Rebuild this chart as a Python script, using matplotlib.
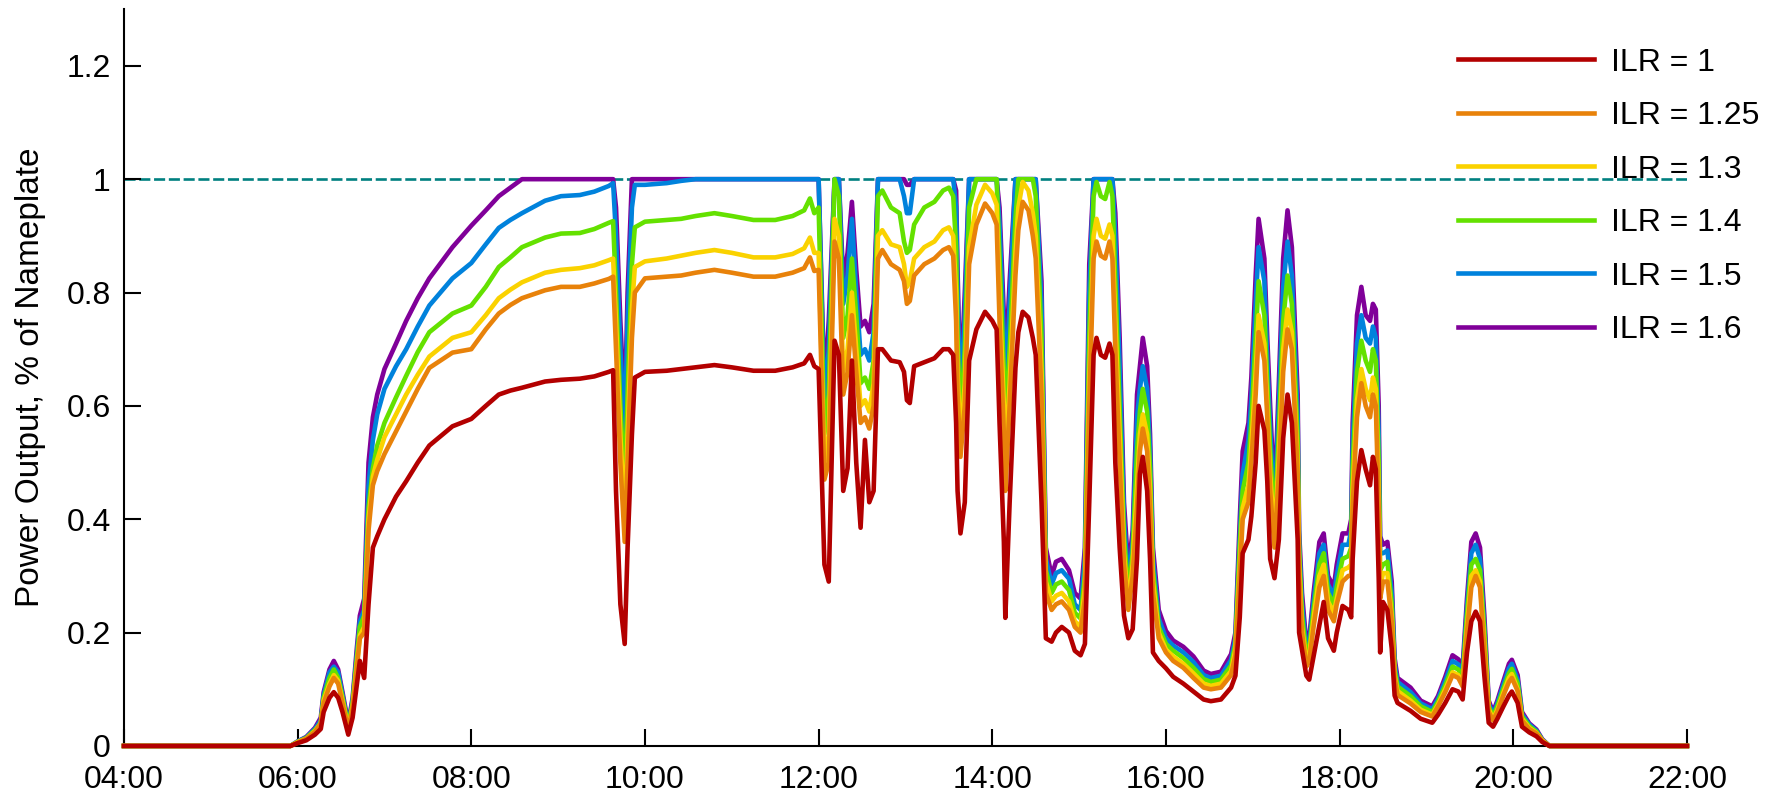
import matplotlib
matplotlib.use("Agg")
import matplotlib.pyplot as plt
import matplotlib.dates as mdates
from matplotlib.ticker import FuncFormatter
import pandas as pd

# sample times (irregular)
times = [
    "04:00", "05:55", "06:00", "06:06", "06:12", "06:16", "06:18", "06:22", "06:25", "06:28",
    "06:31", "06:35", "06:38", "06:41", "06:43", "06:46", "06:49", "06:52", "06:55", "07:00",
    "07:08", "07:15", "07:23", "07:31", "07:47", "08:00", "08:10", "08:19", "08:27", "08:35",
    "08:51", "09:02", "09:15", "09:25", "09:35", "09:38", "09:40", "09:43", "09:46", "09:48",
    "09:51", "09:53", "10:00", "10:15", "10:25", "10:35", "10:48", "11:00", "11:15", "11:30",
    "11:42", "11:50", "11:54", "11:57", "12:00", "12:04", "12:07", "12:11", "12:14", "12:17",
    "12:20", "12:23", "12:26", "12:29", "12:32", "12:35", "12:38", "12:41", "12:44", "12:50",
    "12:56", "12:59", "13:01", "13:03", "13:06", "13:13", "13:20", "13:26", "13:30", "13:33",
    "13:35", "13:36", "13:38", "13:41", "13:44", "13:49", "13:55", "14:00", "14:03", "14:05",
    "14:08", "14:09", "14:12", "14:16", "14:18", "14:21", "14:25", "14:28", "14:30", "14:34",
    "14:37", "14:41", "14:44", "14:48", "14:53", "14:57", "15:01", "15:04", "15:07", "15:10",
    "15:12", "15:15", "15:18", "15:21", "15:23", "15:25", "15:28", "15:31", "15:34", "15:37",
    "15:40", "15:42", "15:44", "15:47", "15:49", "15:51", "15:55", "16:00", "16:05", "16:12",
    "16:19", "16:26", "16:31", "16:38", "16:45", "16:48", "16:51", "16:53", "16:57", "16:59",
    "17:02", "17:04", "17:08", "17:10", "17:12", "17:15", "17:18", "17:21", "17:24", "17:27",
    "17:31", "17:32", "17:34", "17:37", "17:39", "17:42", "17:46", "17:49", "17:52", "17:56",
    "17:58", "18:02", "18:06", "18:08", "18:09", "18:12", "18:15", "18:18", "18:21", "18:23",
    "18:25", "18:27", "18:28", "18:30", "18:33", "18:36", "18:38", "18:40", "18:49", "18:56",
    "19:04", "19:08", "19:13", "19:18", "19:22", "19:25", "19:28", "19:31", "19:34", "19:37",
    "19:40", "19:43", "19:46", "19:49", "19:53", "19:57", "19:59", "20:03", "20:06", "20:11",
    "20:16", "20:20", "20:25", "22:00",
]

ilr_100 = [
    0, 0, 0.005, 0.01, 0.02, 0.03, 0.06, 0.085, 0.095, 0.085,
    0.06, 0.02, 0.05, 0.11, 0.15, 0.12, 0.25, 0.35, 0.37, 0.40,
    0.44, 0.467, 0.50, 0.53, 0.564, 0.577, 0.60, 0.62, 0.627, 0.632,
    0.643, 0.646, 0.648, 0.652, 0.66, 0.663, 0.45, 0.25, 0.18, 0.35,
    0.55, 0.65, 0.66, 0.662, 0.665, 0.668, 0.672, 0.668, 0.662, 0.662,
    0.668, 0.675, 0.69, 0.67, 0.665, 0.32, 0.29, 0.715, 0.69, 0.45,
    0.49, 0.68, 0.5, 0.385, 0.54, 0.43, 0.45, 0.70, 0.70, 0.68,
    0.677, 0.66, 0.61, 0.605, 0.67, 0.677, 0.684, 0.70, 0.70, 0.69,
    0.57, 0.45, 0.375, 0.43, 0.68, 0.735, 0.766, 0.75, 0.735, 0.57,
    0.36, 0.226, 0.43, 0.667, 0.73, 0.766, 0.756, 0.72, 0.69, 0.43,
    0.19, 0.184, 0.2, 0.21, 0.2, 0.168, 0.16, 0.18, 0.43, 0.69,
    0.72, 0.69, 0.685, 0.71, 0.69, 0.5, 0.35, 0.23, 0.19, 0.206,
    0.33, 0.48, 0.51, 0.45, 0.33, 0.165, 0.15, 0.137, 0.122, 0.11,
    0.096, 0.082, 0.079, 0.082, 0.103, 0.124, 0.227, 0.34, 0.364, 0.405,
    0.5, 0.6, 0.557, 0.467, 0.33, 0.296, 0.364, 0.543, 0.62, 0.57,
    0.364, 0.2, 0.17, 0.124, 0.117, 0.158, 0.213, 0.254, 0.19, 0.168,
    0.2, 0.247, 0.24, 0.227, 0.33, 0.467, 0.522, 0.488, 0.46, 0.51,
    0.488, 0.296, 0.165, 0.254, 0.24, 0.172, 0.089, 0.076, 0.062, 0.048,
    0.041, 0.055, 0.076, 0.1, 0.096, 0.082, 0.165, 0.22, 0.237, 0.22,
    0.124, 0.041, 0.034, 0.048, 0.069, 0.089, 0.096, 0.076, 0.034, 0.024,
    0.017, 0.007, 0, 0,
]

ilr_125 = [
    0, 0, 0.006, 0.013, 0.025, 0.04, 0.075, 0.105, 0.12, 0.11,
    0.075, 0.03, 0.065, 0.14, 0.19, 0.2, 0.38, 0.46, 0.485, 0.515,
    0.555, 0.59, 0.63, 0.667, 0.694, 0.70, 0.735, 0.763, 0.778, 0.79,
    0.804, 0.81, 0.81, 0.816, 0.824, 0.828, 0.7, 0.5, 0.36, 0.5,
    0.72, 0.8, 0.825, 0.828, 0.83, 0.835, 0.84, 0.835, 0.828, 0.828,
    0.835, 0.843, 0.862, 0.838, 0.84, 0.47, 0.5, 0.89, 0.86, 0.62,
    0.66, 0.76, 0.66, 0.57, 0.58, 0.56, 0.6, 0.86, 0.875, 0.85,
    0.84, 0.82, 0.78, 0.785, 0.83, 0.85, 0.86, 0.875, 0.88, 0.865,
    0.75, 0.62, 0.51, 0.6, 0.85, 0.92, 0.957, 0.94, 0.92, 0.75,
    0.55, 0.45, 0.6, 0.83, 0.91, 0.96, 0.945, 0.9, 0.86, 0.62,
    0.27, 0.24, 0.25, 0.255, 0.24, 0.21, 0.2, 0.26, 0.6, 0.86,
    0.89, 0.865, 0.86, 0.89, 0.86, 0.7, 0.5, 0.32, 0.24, 0.3,
    0.42, 0.52, 0.56, 0.52, 0.42, 0.27, 0.19, 0.165, 0.15, 0.138,
    0.12, 0.103, 0.1, 0.103, 0.125, 0.16, 0.3, 0.4, 0.43, 0.5,
    0.62, 0.73, 0.68, 0.58, 0.45, 0.35, 0.48, 0.66, 0.735, 0.7,
    0.48, 0.3, 0.2, 0.14, 0.15, 0.21, 0.28, 0.3, 0.24, 0.22,
    0.25, 0.29, 0.3, 0.3, 0.42, 0.58, 0.64, 0.6, 0.58, 0.62,
    0.6, 0.42, 0.26, 0.29, 0.29, 0.22, 0.12, 0.09, 0.075, 0.06,
    0.052, 0.07, 0.095, 0.125, 0.12, 0.105, 0.2, 0.28, 0.3, 0.28,
    0.17, 0.06, 0.045, 0.06, 0.088, 0.113, 0.12, 0.097, 0.045, 0.03,
    0.022, 0.009, 0, 0,
]

ilr_130 = [
    0, 0, 0.007, 0.013, 0.026, 0.04, 0.08, 0.11, 0.125, 0.115,
    0.08, 0.03, 0.07, 0.145, 0.195, 0.21, 0.4, 0.475, 0.505, 0.545,
    0.585, 0.62, 0.655, 0.687, 0.72, 0.73, 0.76, 0.79, 0.805, 0.818,
    0.835, 0.84, 0.843, 0.848, 0.857, 0.86, 0.75, 0.55, 0.4, 0.55,
    0.77, 0.845, 0.855, 0.86, 0.865, 0.87, 0.875, 0.87, 0.862, 0.862,
    0.868, 0.878, 0.897, 0.87, 0.87, 0.5, 0.55, 0.93, 0.9, 0.66,
    0.7, 0.8, 0.7, 0.6, 0.61, 0.59, 0.64, 0.9, 0.91, 0.885,
    0.88, 0.85, 0.81, 0.82, 0.86, 0.88, 0.89, 0.91, 0.915, 0.9,
    0.8, 0.66, 0.53, 0.64, 0.88, 0.955, 0.99, 0.975, 0.955, 0.8,
    0.6, 0.5, 0.64, 0.87, 0.95, 0.995, 0.98, 0.94, 0.9, 0.66,
    0.29, 0.255, 0.265, 0.27, 0.255, 0.22, 0.21, 0.28, 0.65, 0.9,
    0.93, 0.9, 0.895, 0.92, 0.9, 0.75, 0.55, 0.34, 0.25, 0.32,
    0.46, 0.55, 0.585, 0.55, 0.45, 0.29, 0.2, 0.17, 0.158, 0.145,
    0.128, 0.11, 0.106, 0.11, 0.132, 0.17, 0.32, 0.42, 0.46, 0.53,
    0.66, 0.76, 0.71, 0.6, 0.48, 0.37, 0.51, 0.7, 0.77, 0.73,
    0.5, 0.32, 0.21, 0.15, 0.16, 0.225, 0.3, 0.32, 0.255, 0.235,
    0.26, 0.31, 0.315, 0.32, 0.45, 0.61, 0.665, 0.63, 0.61, 0.65,
    0.63, 0.45, 0.28, 0.305, 0.305, 0.23, 0.125, 0.097, 0.08, 0.064,
    0.055, 0.073, 0.1, 0.13, 0.125, 0.11, 0.21, 0.3, 0.31, 0.29,
    0.18, 0.065, 0.048, 0.064, 0.093, 0.12, 0.127, 0.1, 0.048, 0.032,
    0.023, 0.01, 0, 0,
]

ilr_140 = [
    0, 0, 0.007, 0.014, 0.028, 0.04, 0.085, 0.12, 0.135, 0.12,
    0.085, 0.035, 0.075, 0.155, 0.21, 0.23, 0.42, 0.49, 0.53, 0.57,
    0.615, 0.653, 0.695, 0.73, 0.763, 0.777, 0.81, 0.845, 0.862, 0.88,
    0.897, 0.904, 0.905, 0.912, 0.923, 0.926, 0.8, 0.6, 0.45, 0.62,
    0.85, 0.915, 0.925, 0.928, 0.93, 0.935, 0.94, 0.935, 0.928, 0.928,
    0.935, 0.945, 0.966, 0.94, 0.95, 0.55, 0.62, 1, 0.97, 0.72,
    0.76, 0.86, 0.76, 0.64, 0.65, 0.63, 0.68, 0.97, 0.98, 0.95,
    0.94, 0.89, 0.87, 0.875, 0.92, 0.95, 0.96, 0.98, 0.985, 0.97,
    0.88, 0.72, 0.57, 0.7, 0.95, 1, 1, 1, 1, 0.86,
    0.66, 0.56, 0.7, 0.93, 1, 1, 1, 1, 0.97, 0.72,
    0.31, 0.27, 0.285, 0.29, 0.275, 0.235, 0.225, 0.3, 0.72, 0.97,
    0.995, 0.97, 0.965, 0.995, 0.97, 0.82, 0.6, 0.37, 0.27, 0.34,
    0.52, 0.59, 0.63, 0.59, 0.49, 0.31, 0.21, 0.18, 0.168, 0.155,
    0.138, 0.118, 0.113, 0.117, 0.142, 0.18, 0.35, 0.45, 0.5, 0.57,
    0.72, 0.82, 0.76, 0.64, 0.52, 0.39, 0.55, 0.75, 0.83, 0.78,
    0.54, 0.34, 0.23, 0.16, 0.17, 0.24, 0.32, 0.34, 0.27, 0.25,
    0.28, 0.33, 0.335, 0.35, 0.49, 0.66, 0.715, 0.68, 0.66, 0.7,
    0.68, 0.5, 0.31, 0.32, 0.325, 0.25, 0.135, 0.105, 0.088, 0.07,
    0.06, 0.078, 0.107, 0.14, 0.135, 0.12, 0.23, 0.32, 0.33, 0.31,
    0.2, 0.07, 0.052, 0.07, 0.1, 0.128, 0.136, 0.11, 0.052, 0.035,
    0.025, 0.01, 0, 0,
]

ilr_150 = [
    0, 0, 0.008, 0.015, 0.03, 0.045, 0.09, 0.13, 0.14, 0.13,
    0.09, 0.035, 0.08, 0.165, 0.22, 0.24, 0.46, 0.54, 0.585, 0.63,
    0.67, 0.70, 0.74, 0.777, 0.825, 0.852, 0.885, 0.914, 0.928, 0.94,
    0.962, 0.97, 0.972, 0.978, 0.988, 0.993, 0.9, 0.7, 0.55, 0.75,
    0.95, 0.99, 0.99, 0.993, 0.997, 1, 1, 1, 1, 1,
    1, 1, 1, 1, 1, 0.6, 0.7, 1, 1, 0.78,
    0.83, 0.93, 0.8, 0.69, 0.7, 0.68, 0.73, 1, 1, 1,
    1, 0.97, 0.94, 0.94, 1, 1, 1, 1, 1, 1,
    0.95, 0.8, 0.6, 0.76, 1, 1, 1, 1, 1, 0.92,
    0.72, 0.62, 0.78, 1, 1, 1, 1, 1, 1, 0.78,
    0.33, 0.285, 0.305, 0.31, 0.295, 0.25, 0.24, 0.33, 0.8, 1,
    1, 1, 1, 1, 1, 0.9, 0.67, 0.4, 0.29, 0.36,
    0.58, 0.63, 0.67, 0.63, 0.52, 0.33, 0.225, 0.19, 0.177, 0.165,
    0.148, 0.125, 0.12, 0.124, 0.152, 0.19, 0.37, 0.48, 0.54, 0.61,
    0.78, 0.88, 0.82, 0.68, 0.56, 0.41, 0.6, 0.81, 0.89, 0.83,
    0.58, 0.36, 0.25, 0.17, 0.18, 0.255, 0.34, 0.355, 0.285, 0.265,
    0.3, 0.355, 0.355, 0.38, 0.53, 0.71, 0.76, 0.72, 0.71, 0.74,
    0.72, 0.55, 0.34, 0.34, 0.345, 0.27, 0.145, 0.113, 0.095, 0.075,
    0.065, 0.083, 0.115, 0.15, 0.144, 0.13, 0.245, 0.34, 0.355, 0.33,
    0.21, 0.075, 0.056, 0.075, 0.107, 0.137, 0.145, 0.117, 0.056, 0.038,
    0.027, 0.011, 0, 0,
]

ilr_160 = [
    0, 0, 0.008, 0.016, 0.032, 0.05, 0.095, 0.135, 0.15, 0.135,
    0.095, 0.04, 0.085, 0.175, 0.23, 0.26, 0.5, 0.58, 0.62, 0.665,
    0.71, 0.75, 0.79, 0.825, 0.88, 0.918, 0.945, 0.97, 0.985, 1,
    1, 1, 1, 1, 1, 1, 0.95, 0.75, 0.58, 0.8,
    1, 1, 1, 1, 1, 1, 1, 1, 1, 1,
    1, 1, 1, 1, 1, 0.63, 0.75, 1, 1, 0.82,
    0.87, 0.96, 0.84, 0.74, 0.75, 0.73, 0.78, 1, 1, 1,
    1, 1, 0.99, 0.99, 1, 1, 1, 1, 1, 1,
    0.98, 0.84, 0.62, 0.8, 1, 1, 1, 1, 1, 0.95,
    0.76, 0.66, 0.82, 1, 1, 1, 1, 1, 1, 0.82,
    0.35, 0.3, 0.325, 0.33, 0.31, 0.27, 0.26, 0.35, 0.85, 1,
    1, 1, 1, 1, 1, 0.94, 0.72, 0.43, 0.31, 0.38,
    0.62, 0.67, 0.72, 0.67, 0.55, 0.35, 0.24, 0.203, 0.186, 0.175,
    0.158, 0.133, 0.127, 0.131, 0.162, 0.2, 0.4, 0.52, 0.57, 0.65,
    0.83, 0.93, 0.86, 0.72, 0.6, 0.43, 0.64, 0.86, 0.945, 0.88,
    0.62, 0.38, 0.27, 0.18, 0.19, 0.27, 0.36, 0.375, 0.3, 0.28,
    0.32, 0.375, 0.375, 0.4, 0.57, 0.76, 0.81, 0.76, 0.75, 0.78,
    0.77, 0.6, 0.37, 0.355, 0.36, 0.29, 0.155, 0.12, 0.103, 0.08,
    0.07, 0.088, 0.122, 0.16, 0.153, 0.14, 0.26, 0.36, 0.375, 0.35,
    0.23, 0.08, 0.06, 0.08, 0.113, 0.145, 0.152, 0.125, 0.06, 0.04,
    0.029, 0.012, 0, 0,
]

labels = ["ILR = 1", "ILR = 1.25", "ILR = 1.3", "ILR = 1.4", "ILR = 1.5", "ILR = 1.6"]
colors = ["#b30000", "#e8820a", "#fad200", "#64e100", "#0082dc", "#800099"]
nameplate = 1.0

plt.rcParams['font.family'] = ['Liberation Sans', 'DejaVu Sans']

t = pd.to_datetime(["2020-01-01 " + s for s in times])
series = [ilr_100, ilr_125, ilr_130, ilr_140, ilr_150, ilr_160]

fig = plt.figure(figsize=(17.81, 7.94), dpi=100)
ax = fig.add_axes([0.0696, 0.0605, 0.8776, 0.928])

# inverter nameplate limit
ax.axhline(nameplate, color="#008080", lw=1.9, dashes=(4.2, 1.4), zorder=1)

# red on top, purple at the bottom
for i, (vals, lab, col) in enumerate(zip(series, labels, colors)):
    ax.plot(t, vals, color=col, lw=3.3, label=lab, zorder=10 - i,
            solid_joinstyle="round", clip_on=False)

ax.set_xlim(pd.Timestamp("2020-01-01 04:00"), pd.Timestamp("2020-01-01 22:00"))
ax.set_ylim(0, 1.3)
ax.xaxis.set_major_locator(mdates.HourLocator(byhour=range(4, 23, 2)))
ax.xaxis.set_major_formatter(mdates.DateFormatter("%H:%M"))
ax.set_yticks([0, 0.2, 0.4, 0.6, 0.8, 1.0, 1.2])
ax.yaxis.set_major_formatter(FuncFormatter(lambda v, p: f"{v:g}"))

for side in ["top", "right"]:
    ax.spines[side].set_visible(False)
for side in ["left", "bottom"]:
    ax.spines[side].set_linewidth(1.5)

ax.tick_params(axis="both", direction="in", length=12, width=1.5, labelsize=23)
ax.tick_params(axis="y", pad=9.5)
ax.tick_params(axis="x", pad=13.5)
ax.set_ylabel("Power Output, % of Nameplate", fontsize=24, labelpad=15)

leg = ax.legend(loc="upper left", bbox_to_anchor=(0.8187, 0.940),
                bbox_transform=fig.transFigure, frameon=False, fontsize=23,
                handlelength=4.26, handletextpad=0.53, borderpad=0,
                borderaxespad=0, labelspacing=0.735)
for line in leg.get_lines():
    line.set_linewidth(3.3)

fig.savefig("out.png", dpi=100)
